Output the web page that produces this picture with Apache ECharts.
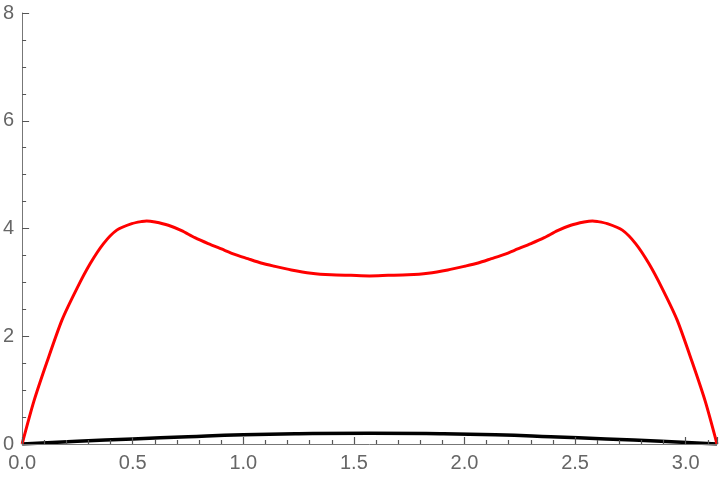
<!DOCTYPE html>
<html style="height: 100%">
<head>
<meta charset="utf-8">
<title>plot</title>
<script src="https://cdn.jsdelivr.net/npm/echarts@6/dist/echarts.min.js"></script>
</head>
<body style="height: 100%; margin: 0; background: #fff">
<div id="container" style="width: 720px; height: 480px"></div>
<script type="text/javascript">
// red curve
var redX = [0, 0.053, 0.113, 0.18, 0.248, 0.308, 0.368, 0.428, 0.496, 0.541, 0.563, 0.601, 0.661, 0.721, 0.781, 0.841, 0.901,
            0.961, 1.02, 1.08, 1.14, 1.217, 1.307, 1.397, 1.487, 1.5708,
            1.6546, 1.7446, 1.8346, 1.9246, 2.0016, 2.0616, 2.1216, 2.1806, 2.2406, 2.3006, 2.3606, 2.4206, 2.4806,
            2.5406, 2.5786, 2.6006, 2.6456, 2.7136, 2.7736, 2.8336, 2.8936, 2.9616, 3.0286, 3.0886, 3.1416];
var redY = [0, 0.79, 1.53, 2.30, 2.89, 3.35, 3.72, 3.97, 4.09, 4.13, 4.14, 4.12, 4.06, 3.96, 3.83, 3.72, 3.62,
            3.52, 3.44, 3.36, 3.30, 3.23, 3.17, 3.14, 3.13, 3.12,
            3.13, 3.14, 3.17, 3.23, 3.30, 3.36, 3.44, 3.52, 3.62, 3.72, 3.83, 3.96, 4.06,
            4.12, 4.14, 4.13, 4.09, 3.97, 3.72, 3.35, 2.89, 2.30, 1.53, 0.79, 0];
// black curve
var blackX = [0, 0.25, 0.5, 0.75, 1.0, 1.25, 1.5708, 1.89, 2.14, 2.39, 2.64, 2.89, 3.1416];
var blackY = [0, 0.05, 0.095, 0.135, 0.17, 0.19, 0.2, 0.19, 0.17, 0.135, 0.095, 0.05, 0];

function pairs(xs, ys) {
    var out = [];
    for (var i = 0; i < xs.length; i++) out.push([xs[i], ys[i]]);
    return out;
}

var myChart = echarts.init(document.getElementById('container'));
var axisColor = '#777';
var tickColor = '#555';
var labelColor = '#666';

var option = {
    backgroundColor: '#fff',
    animation: false,
    grid: { left: 20, right: 3, top: 13, bottom: 36 },
    xAxis: {
        type: 'value',
        min: 0,
        max: Math.PI,
        interval: 0.5,
        z: 5,
        splitLine: { show: false },
        axisLine: { lineStyle: { color: axisColor } },
        axisTick: { show: true, inside: true, length: 7, lineStyle: { color: tickColor, width: 1.2 } },
        minorTick: { show: true, splitNumber: 5, length: 4, lineStyle: { color: tickColor, width: 1.2 } },
        axisLabel: {
            color: labelColor,
            fontSize: 20,
            fontFamily: 'Liberation Sans',
            margin: 9,
            showMaxLabel: false,
            formatter: function (v) { return v.toFixed(1); }
        }
    },
    yAxis: {
        type: 'value',
        min: 0,
        max: 8,
        interval: 2,
        splitLine: { show: false },
        axisLine: { show: true, lineStyle: { color: axisColor } },
        axisTick: { show: true, inside: true, length: 7, lineStyle: { color: tickColor } },
        minorTick: { show: true, splitNumber: 4, length: 4, lineStyle: { color: tickColor } },
        axisLabel: { color: labelColor, fontSize: 20, fontFamily: 'Liberation Sans', margin: 8 }
    },
    series: [
        {
            type: 'line',
            data: pairs(blackX, blackY),
            showSymbol: false,
            smooth: true,
            lineStyle: { color: '#000', width: 3.5 }
        },
        {
            type: 'line',
            data: pairs(redX, redY),
            showSymbol: false,
            smooth: 0.25,
            lineStyle: { color: '#ff0000', width: 3 }
        }
    ]
};
myChart.setOption(option);
</script>
</body>
</html>
